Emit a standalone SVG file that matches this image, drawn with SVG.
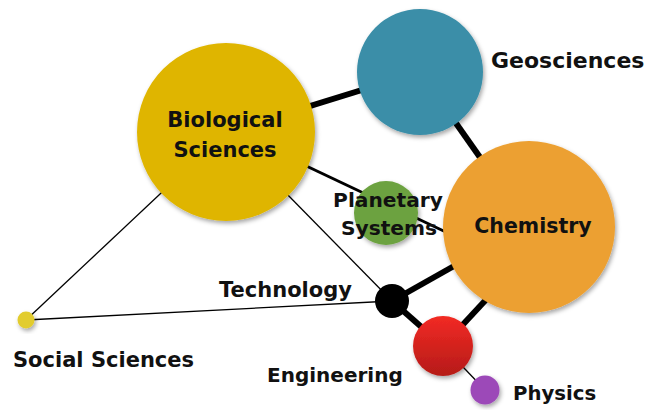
<svg xmlns="http://www.w3.org/2000/svg" width="651" height="410" viewBox="0 0 651 410">
<defs>
<filter id="sh" x="-20%" y="-20%" width="150%" height="150%">
<feDropShadow dx="1.5" dy="2.5" stdDeviation="2" flood-color="#000" flood-opacity="0.35"/>
</filter>
<linearGradient id="red" x1="0" y1="0" x2="0" y2="1">
<stop offset="0" stop-color="#F22A24"/>
<stop offset="1" stop-color="#B51B18"/>
</linearGradient>
<style>
.lbl{font-family:"DejaVu Sans","Liberation Sans",sans-serif;font-weight:bold;fill:#111;}
.thick{stroke:#000;stroke-width:6;fill:none;}
.mid{stroke:#000;stroke-width:3;fill:none;}
.thin{stroke:#000;stroke-width:1.3;fill:none;}
</style>
</defs>
<rect width="651" height="410" fill="#fff"/>
<g id="connectors">
<line class="thick" x1="226" y1="132" x2="420" y2="72"/>
<line class="thick" x1="420" y1="72" x2="529" y2="227"/>
<line class="mid" x1="300" y1="163" x2="450" y2="234"/>
<line class="thin" x1="226" y1="132" x2="392" y2="301"/>
<line class="thin" x1="26" y1="320" x2="226" y2="132"/>
<line class="thin" x1="26" y1="320" x2="392" y2="301"/>
<line class="thick" x1="392" y1="301" x2="470" y2="257"/>
<line class="thick" x1="392" y1="301" x2="443" y2="346"/>
<line class="thick" x1="443" y1="346" x2="495" y2="290"/>
<line class="thin" x1="443" y1="346" x2="485" y2="390"/>
</g>
<g id="biological">
<circle cx="226" cy="132" r="89" fill="#DFB500" filter="url(#sh)"/>
<text class="lbl" x="225" y="127" font-size="21" text-anchor="middle">Biological</text>
<text class="lbl" x="225" y="157" font-size="21" text-anchor="middle">Sciences</text>
</g>
<g id="geosciences">
<circle cx="420" cy="72" r="63" fill="#3A8EA8" filter="url(#sh)"/>
<text class="lbl" x="491" y="68" font-size="22">Geosciences</text>
</g>
<g id="chemistry">
<circle cx="529" cy="227" r="86" fill="#ECA032" filter="url(#sh)"/>
<text class="lbl" x="533" y="233" font-size="20.5" text-anchor="middle">Chemistry</text>
</g>
<g id="planetary">
<circle cx="386" cy="213" r="32" fill="#6CA23F" filter="url(#sh)"/>
<text class="lbl" x="388" y="207" font-size="20.2" text-anchor="middle">Planetary</text>
<text class="lbl" x="389" y="235" font-size="20.2" text-anchor="middle">Systems</text>
</g>
<g id="technology">
<circle cx="392" cy="301" r="17" fill="#000"/>
<text class="lbl" x="219" y="297" font-size="21">Technology</text>
</g>
<g id="engineering">
<circle cx="443" cy="346" r="30" fill="url(#red)" filter="url(#sh)"/>
<text class="lbl" x="267" y="382" font-size="20">Engineering</text>
</g>
<g id="physics">
<circle cx="485" cy="390" r="14.5" fill="#9C4AB8" filter="url(#sh)"/>
<text class="lbl" x="513" y="400" font-size="19.7">Physics</text>
</g>
<g id="social">
<circle cx="26" cy="320" r="8.5" fill="#E2CC2E" filter="url(#sh)"/>
<text class="lbl" x="13" y="367" font-size="21">Social Sciences</text>
</g>
</svg>
